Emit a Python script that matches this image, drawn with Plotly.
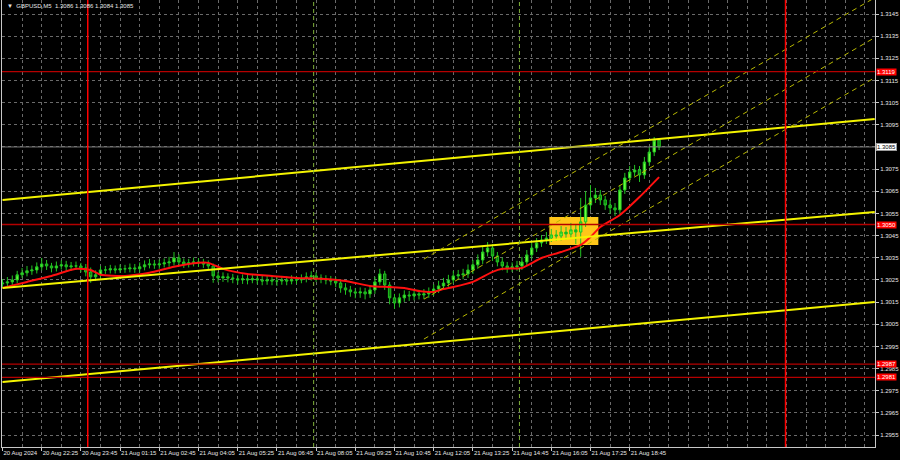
import plotly.graph_objects as go

# ---------------- data ----------------
bar_idx = list(range(135))

opens = [1.30232, 1.30236, 1.30241, 1.30250, 1.30273, 1.30282, 1.30291, 1.30295, 1.30309, 1.30322,
         1.30313, 1.30304, 1.30313, 1.30318, 1.30309, 1.30313, 1.30313, 1.30304, 1.30286, 1.30264,
         1.30273, 1.30295, 1.30295, 1.30300, 1.30295, 1.30300, 1.30300, 1.30304, 1.30300, 1.30309,
         1.30318, 1.30322, 1.30318, 1.30322, 1.30327, 1.30331, 1.30349, 1.30331, 1.30322, 1.30327,
         1.30331, 1.30327, 1.30322, 1.30313, 1.30268, 1.30259, 1.30264, 1.30259, 1.30255, 1.30250,
         1.30255, 1.30250, 1.30255, 1.30250, 1.30245, 1.30250, 1.30245, 1.30245, 1.30250, 1.30245,
         1.30250, 1.30250, 1.30255, 1.30264, 1.30268, 1.30259, 1.30255, 1.30250, 1.30245, 1.30236,
         1.30214, 1.30205, 1.30196, 1.30191, 1.30196, 1.30187, 1.30205, 1.30241, 1.30277, 1.30227,
         1.30169, 1.30146, 1.30169, 1.30182, 1.30178, 1.30187, 1.30182, 1.30187, 1.30196, 1.30209,
         1.30223, 1.30236, 1.30250, 1.30268, 1.30273, 1.30277, 1.30295, 1.30318, 1.30340, 1.30376,
         1.30394, 1.30358, 1.30331, 1.30313, 1.30304, 1.30309, 1.30313, 1.30331, 1.30363, 1.30394,
         1.30417, 1.30430, 1.30439, 1.30453, 1.30448, 1.30466, 1.30457, 1.30476, 1.30466, 1.30512,
         1.30588, 1.30620, 1.30633, 1.30611, 1.30588, 1.30575, 1.30566, 1.30656, 1.30710, 1.30737,
         1.30746, 1.30724, 1.30782, 1.30827, 1.30881]

highs = [1.30254, 1.30263, 1.30270, 1.30291, 1.30304, 1.30313, 1.30315, 1.30329, 1.30349, 1.30340,
         1.30327, 1.30333, 1.30338, 1.30336, 1.30331, 1.30333, 1.30327, 1.30322, 1.30306, 1.30293,
         1.30313, 1.30313, 1.30318, 1.30315, 1.30320, 1.30318, 1.30324, 1.30322, 1.30329, 1.30338,
         1.30345, 1.30340, 1.30342, 1.30347, 1.30354, 1.30376, 1.30365, 1.30347, 1.30345, 1.30351,
         1.30349, 1.30345, 1.30338, 1.30324, 1.30286, 1.30284, 1.30280, 1.30277, 1.30271, 1.30275,
         1.30273, 1.30273, 1.30271, 1.30268, 1.30268, 1.30266, 1.30264, 1.30268, 1.30266, 1.30271,
         1.30268, 1.30275, 1.30284, 1.30289, 1.30284, 1.30275, 1.30271, 1.30268, 1.30262, 1.30250,
         1.30235, 1.30223, 1.30214, 1.30216, 1.30214, 1.30226, 1.30264, 1.30300, 1.30291, 1.30241,
         1.30187, 1.30189, 1.30203, 1.30200, 1.30207, 1.30205, 1.30209, 1.30216, 1.30230, 1.30246,
         1.30259, 1.30273, 1.30291, 1.30295, 1.30300, 1.30320, 1.30340, 1.30365, 1.30399, 1.30421,
         1.30412, 1.30376, 1.30351, 1.30331, 1.30329, 1.30336, 1.30354, 1.30385, 1.30417, 1.30439,
         1.30453, 1.30466, 1.30480, 1.30475, 1.30493, 1.30489, 1.30507, 1.30502, 1.30620, 1.30651,
         1.30678, 1.30665, 1.30656, 1.30629, 1.30611, 1.30597, 1.30678, 1.30733, 1.30764, 1.30769,
         1.30764, 1.30805, 1.30850, 1.30895, 1.30886]

lows = [1.30214, 1.30218, 1.30227, 1.30236, 1.30259, 1.30266, 1.30273, 1.30279, 1.30293, 1.30295,
        1.30284, 1.30288, 1.30297, 1.30291, 1.30291, 1.30295, 1.30284, 1.30266, 1.30237, 1.30246,
        1.30259, 1.30277, 1.30279, 1.30279, 1.30282, 1.30282, 1.30284, 1.30282, 1.30284, 1.30293,
        1.30302, 1.30300, 1.30300, 1.30306, 1.30309, 1.30315, 1.30313, 1.30304, 1.30306, 1.30311,
        1.30309, 1.30304, 1.30293, 1.30237, 1.30239, 1.30241, 1.30239, 1.30235, 1.30230, 1.30232,
        1.30230, 1.30235, 1.30230, 1.30226, 1.30228, 1.30226, 1.30223, 1.30228, 1.30226, 1.30230,
        1.30232, 1.30235, 1.30239, 1.30246, 1.30241, 1.30235, 1.30230, 1.30226, 1.30217, 1.30192,
        1.30183, 1.30174, 1.30167, 1.30169, 1.30162, 1.30169, 1.30187, 1.30226, 1.30205, 1.30140,
        1.30119, 1.30126, 1.30151, 1.30155, 1.30158, 1.30162, 1.30164, 1.30169, 1.30178, 1.30191,
        1.30205, 1.30219, 1.30234, 1.30250, 1.30253, 1.30259, 1.30277, 1.30300, 1.30322, 1.30356,
        1.30336, 1.30311, 1.30293, 1.30282, 1.30286, 1.30291, 1.30295, 1.30313, 1.30345, 1.30376,
        1.30399, 1.30412, 1.30421, 1.30426, 1.30428, 1.30433, 1.30435, 1.30412, 1.30354, 1.30489,
        1.30566, 1.30597, 1.30588, 1.30566, 1.30548, 1.30539, 1.30548, 1.30638, 1.30692, 1.30719,
        1.30692, 1.30706, 1.30764, 1.30809, 1.30836]

closes = [1.30236, 1.30241, 1.30250, 1.30273, 1.30282, 1.30291, 1.30295, 1.30309, 1.30322, 1.30313,
          1.30304, 1.30313, 1.30318, 1.30309, 1.30313, 1.30313, 1.30304, 1.30286, 1.30264, 1.30273,
          1.30295, 1.30295, 1.30300, 1.30295, 1.30300, 1.30300, 1.30304, 1.30300, 1.30309, 1.30318,
          1.30322, 1.30318, 1.30322, 1.30327, 1.30331, 1.30349, 1.30331, 1.30322, 1.30327, 1.30331,
          1.30327, 1.30322, 1.30313, 1.30268, 1.30259, 1.30264, 1.30259, 1.30255, 1.30250, 1.30255,
          1.30250, 1.30255, 1.30250, 1.30245, 1.30250, 1.30245, 1.30245, 1.30250, 1.30245, 1.30250,
          1.30250, 1.30255, 1.30264, 1.30268, 1.30259, 1.30255, 1.30250, 1.30245, 1.30236, 1.30214,
          1.30205, 1.30196, 1.30191, 1.30196, 1.30187, 1.30205, 1.30241, 1.30277, 1.30227, 1.30169,
          1.30146, 1.30169, 1.30182, 1.30178, 1.30187, 1.30182, 1.30187, 1.30196, 1.30209, 1.30223,
          1.30236, 1.30250, 1.30268, 1.30273, 1.30277, 1.30295, 1.30318, 1.30340, 1.30376, 1.30394,
          1.30358, 1.30331, 1.30313, 1.30304, 1.30309, 1.30313, 1.30331, 1.30363, 1.30394, 1.30417,
          1.30430, 1.30439, 1.30453, 1.30448, 1.30466, 1.30457, 1.30476, 1.30466, 1.30512, 1.30588,
          1.30620, 1.30633, 1.30611, 1.30588, 1.30575, 1.30566, 1.30656, 1.30710, 1.30737, 1.30746,
          1.30724, 1.30782, 1.30827, 1.30881, 1.30850]

ma_idx = [0, 5, 10, 15, 18, 20, 25, 30, 35, 40, 42, 45, 50, 55, 60, 65, 70, 75, 79, 82, 85, 88,
          90, 92, 96, 100, 102, 106, 110, 114, 118, 120, 122, 126, 130, 134]
ma_vals = [1.30214, 1.30241, 1.30268, 1.30300, 1.30295, 1.30273, 1.30268, 1.30282, 1.30309, 1.30327,
           1.30327, 1.30300, 1.30277, 1.30268, 1.30259, 1.30255, 1.30245, 1.30223, 1.30218, 1.30214,
           1.30200, 1.30196, 1.30209, 1.30218, 1.30241, 1.30286, 1.30300, 1.30304, 1.30349, 1.30376,
           1.30408, 1.30444, 1.30489, 1.30543, 1.30624, 1.30714]

# solid trend lines: (start index, start price, end index, end price)
trend_upper = [0, 1.30611, 178, 1.30976]
trend_middle = [0, 1.30214, 178, 1.30557]
trend_lower = [0, 1.29789, 178, 1.30150]
# dashed regression channel
chan_idx = [86, 180]
chan_top = [1.30344, 1.31549]
chan_mid = [1.30163, 1.31369]
chan_bot = [1.29983, 1.31188]

levels_red = [1.3119, 1.3050, 1.2987, 1.2981]
current_price = 1.3085
vlines_red = [17.4, 159.8]
vlines_sep = [63.5, 105.5]
box_idx = [111.6, 121.6]
box_price = [1.30408, 1.30534]

tick_idx = [0, 8, 16, 24, 32, 40, 48, 56, 64, 72, 80, 88, 96, 104, 112, 120, 128]
tick_text = ["20 Aug 2024", "20 Aug 22:25", "20 Aug 23:45", "21 Aug 01:15", "21 Aug 02:45",
             "21 Aug 04:05", "21 Aug 05:25", "21 Aug 06:45", "21 Aug 08:05", "21 Aug 09:25",
             "21 Aug 10:45", "21 Aug 12:05", "21 Aug 13:25", "21 Aug 14:45", "21 Aug 16:05",
             "21 Aug 17:25", "21 Aug 18:45"]
price_ticks = [1.2955, 1.2965, 1.2975, 1.2985, 1.2995, 1.3005, 1.3015, 1.3025, 1.3035, 1.3045,
               1.3055, 1.3065, 1.3075, 1.3085, 1.3095, 1.3105, 1.3115, 1.3125, 1.3135, 1.3145]
title_text = "GBPUSD,M5  1.3086 1.3086 1.3084 1.3085"

# ---------------- figure ----------------
FONT = "Liberation Sans"
GRID = "#6a6a6a"
fig = go.Figure()

fig.add_trace(go.Candlestick(
    x=bar_idx, open=opens, high=highs, low=lows, close=closes,
    increasing=dict(line=dict(color="#22c322", width=1), fillcolor="#6cff3c"),
    decreasing=dict(line=dict(color="#22c322", width=1), fillcolor="#0e7d0e"),
    whiskerwidth=0, hoverinfo="skip"))

fig.add_trace(go.Scatter(x=ma_idx, y=ma_vals, mode="lines",
                         line=dict(color="#ff1010", width=2, shape="spline", smoothing=0.6),
                         hoverinfo="skip"))

for tl in (trend_upper, trend_middle, trend_lower):
    fig.add_trace(go.Scatter(x=[tl[0], tl[2]], y=[tl[1], tl[3]], mode="lines",
                             line=dict(color="#f4f400", width=2), hoverinfo="skip"))

for ch in (chan_top, chan_mid, chan_bot):
    fig.add_trace(go.Scatter(x=chan_idx, y=ch, mode="lines",
                             line=dict(color="#b8b800", width=1, dash="5px,4px"), hoverinfo="skip"))

shapes = []
shapes.append(dict(type="rect", xref="x", yref="y", x0=box_idx[0], x1=box_idx[1],
                   y0=box_price[0], y1=box_price[1], fillcolor="#ffc61a",
                   line=dict(width=0), layer="between"))
shapes.append(dict(type="line", xref="paper", yref="y", x0=0, x1=1,
                   y0=current_price, y1=current_price, line=dict(color="#7a7a7a", width=1)))
for lv in levels_red:
    shapes.append(dict(type="line", xref="paper", yref="y", x0=0, x1=1, y0=lv, y1=lv,
                       line=dict(color="#b40000", width=1.3)))
for vx in vlines_red:
    shapes.append(dict(type="line", xref="x", yref="paper", x0=vx, x1=vx, y0=0, y1=1,
                       line=dict(color="#ff0000", width=1.5)))
for vx in vlines_sep:
    shapes.append(dict(type="line", xref="x", yref="paper", x0=vx, x1=vx, y0=0, y1=1,
                       line=dict(color="#7fb03a", width=1, dash="4px,3px")))

annotations = []
for lv in levels_red:
    annotations.append(dict(xref="paper", yref="y", x=1, y=lv, xanchor="left", yanchor="middle",
                            xshift=1, text=f"{lv:.4f}", showarrow=False, bgcolor="#ff0000",
                            font=dict(family=FONT, size=6, color="#ffffff"), borderpad=0))
annotations.append(dict(xref="paper", yref="y", x=1, y=current_price, xanchor="left",
                        yanchor="middle", xshift=1, text=f"{current_price:.4f}", showarrow=False,
                        bgcolor="#ffffff", bordercolor="#9a9a9a", borderwidth=1,
                        font=dict(family=FONT, size=6, color="#000000"), borderpad=0))
annotations.append(dict(xref="paper", yref="paper", x=0.0, y=1, xanchor="left", yanchor="top",
                        xshift=3, yshift=-1, text="▼  " + title_text, showarrow=False,
                        font=dict(family=FONT, size=6, color="#e6e6e6")))

# the current-price box replaces the regular 1.3085 tick label
price_tick_text = ["" if abs(p - current_price) < 1e-9 else f"{p:.4f}" for p in price_ticks]

fig.update_layout(
    width=900, height=460,
    margin=dict(l=2, r=25, t=0, b=13, pad=0),
    paper_bgcolor="#000000", plot_bgcolor="#000000",
    showlegend=False, hovermode=False,
    shapes=shapes, annotations=annotations,
    xaxis=dict(range=[-0.1, 178.06], rangeslider=dict(visible=False), automargin=False,
               tickmode="array", tickvals=tick_idx, ticktext=tick_text, tickangle=0,
               ticklabelposition="outside right", ticks="outside", ticklen=3,
               tickcolor="#c8c8c8", showline=True, linecolor="#c8c8c8", linewidth=1,
               showgrid=True, gridcolor=GRID, griddash="3px,3px", gridwidth=1,
               minor=dict(tickvals=[4, 12, 20, 28, 36, 44, 52, 60, 68, 76, 84, 92, 100, 108,
                                    116, 124, 132, 136, 140, 144, 148, 152, 156, 160, 164,
                                    168, 172, 176],
                          showgrid=True, gridcolor=GRID, griddash="3px,3px", gridwidth=1),
               zeroline=False, tickfont=dict(family=FONT, size=6, color="#e6e6e6"),
               fixedrange=True),
    yaxis=dict(range=[1.294960, 1.315132], side="right", tickmode="array", automargin=False,
               tickvals=price_ticks, ticktext=price_tick_text,
               ticks="outside", ticklen=3, tickcolor="#c8c8c8",
               showline=True, linecolor="#c8c8c8", linewidth=1, mirror=True,
               showgrid=True, gridcolor=GRID, griddash="3px,3px", gridwidth=1,
               zeroline=False, tickfont=dict(family=FONT, size=6, color="#e6e6e6"),
               fixedrange=True),
)

fig.write_html("out.html", config={"displayModeBar": False},
               post_script="document.body.style.margin='0px';"
                           "document.body.style.overflow='hidden';"
                           "document.body.style.background='#000000';")
